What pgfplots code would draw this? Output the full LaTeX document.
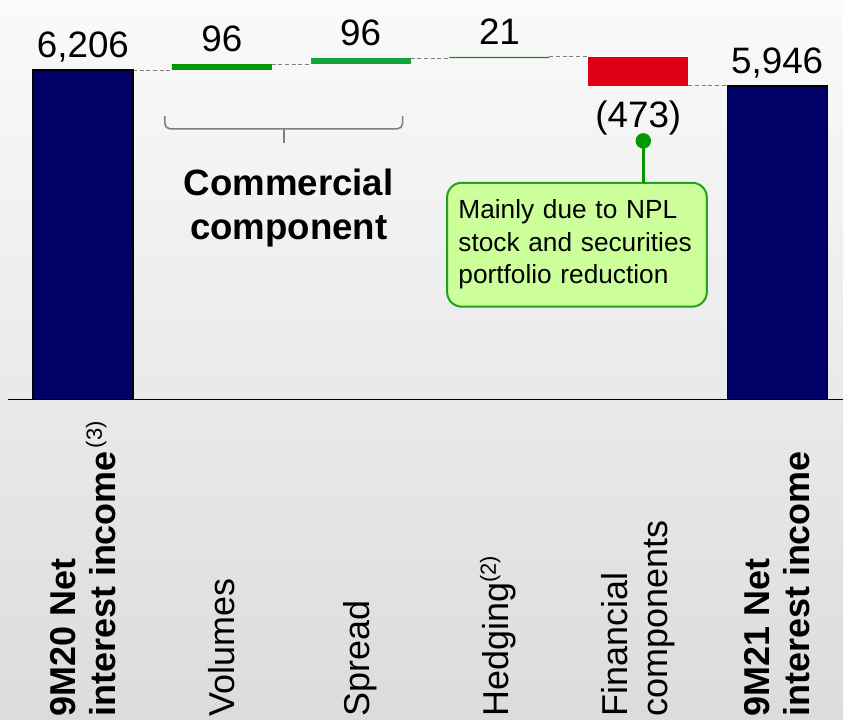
\documentclass[border=0pt]{standalone}
\usepackage{fontspec}
\setmainfont{Liberation Sans}
\usepackage{graphicx}
\usepackage{pgfplots}
\pgfplotsset{compat=1.18}
\usetikzlibrary{backgrounds}
\definecolor{navyblue}{HTML}{000066}
\definecolor{bargreen}{HTML}{009900}
\definecolor{spreadgreen}{HTML}{14A33C}
\definecolor{barred}{HTML}{DD0016}
\definecolor{boxfill}{HTML}{CCFF99}
\definecolor{boxline}{HTML}{22A022}
\definecolor{bgtop}{HTML}{FAFAFA}
\definecolor{bgbot}{HTML}{DCDCDC}
\newcommand{\supnote}[1]{\rlap{\smash{\raisebox{0.36em}{\scalebox{0.61}{#1}}}}}
\tikzset{
  conn/.style={gray, line width=0.6pt, dash pattern=on 3pt off 2pt},
  val/.style={font=\fontsize{27.6}{30}\selectfont, anchor=base, inner sep=0pt},
}
\begin{document}
\begin{tikzpicture}
\begin{axis}[
  name=ax,
  scale only axis,
  width=627pt, height=300pt,
  xmin=-0.5396, xmax=5.475,
  ymin=823, ymax=7348,
  clip mode=individual,
  axis x line=bottom, axis y line=none,
  x axis line style={-, line width=1.3pt, black},
  ybar stacked, bar width=0.72,
  xtick={0,1,2,3,4,5},
  xtick style={draw=none},
  xticklabels={{\vbox{\hbox{\textbf{9M20 Net}}\hbox{\textbf{interest income}}}},Volumes,Spread,Hedging\supnote{(2)},{Financial\\components},{\textbf{9M21 Net}\\\textbf{interest income}}},
  xticklabel style={font=\fontsize{27}{30}\selectfont, align=left, inner sep=0pt, yshift=-236.25pt, rotate=90, anchor=west},
]
\addplot[fill=navyblue, draw=black, line width=1pt] coordinates {(0,6206)(1,0)(2,0)(3,0)(4,0)(5,5946)};
\addplot[fill=none, draw=none] coordinates {(0,0)(1,6206)(2,6302)(3,6398)(4,5946)(5,0)};
\addplot[fill=bargreen, draw=none] coordinates {(0,0)(1,96)(2,0)(3,21)(4,0)(5,0)};
\addplot[fill=spreadgreen, draw=none] coordinates {(0,0)(1,0)(2,96)(3,0)(4,0)(5,0)};
\addplot[fill=barred, draw=none] coordinates {(0,0)(1,0)(2,0)(3,0)(4,473)(5,0)};

\draw[conn] (axis cs:0.36,6206) -- (axis cs:0.64,6206);
\draw[conn] (axis cs:1.36,6302) -- (axis cs:1.64,6302);
\draw[conn] (axis cs:2.36,6398) -- (axis cs:2.64,6398);
\draw[conn] (axis cs:3.36,6419) -- (axis cs:3.64,6419);
\draw[conn] (axis cs:4.36,5946) -- (axis cs:4.64,5946);

\node[val, yshift=9.5pt] at (axis cs:0,6206) {6,206};
\node[val, yshift=9.5pt] at (axis cs:1,6302) {96};
\node[val, yshift=9.5pt] at (axis cs:2,6398) {96};
\node[val, yshift=9.5pt] at (axis cs:3,6419) {21};
\node[val] at (axis cs:4,5260) {(473)};
\node[val, yshift=9.5pt] at (axis cs:5,5946) {5,946};

% footnote mark of the first category label
\node[rotate=90, anchor=base west, inner sep=0pt, font=\fontsize{16.5}{16.5}\selectfont] at (axis cs:0.137,25) {(3)};

\draw[gray, line width=1.2pt, rounded corners=4pt] (axis cs:0.59,5456) -- (axis cs:0.59,5244) -- (axis cs:2.302,5244) -- (axis cs:2.302,5456);
\draw[gray, line width=1.2pt] (axis cs:1.446,5244) -- (axis cs:1.446,5016);
\node[align=center, font=\bfseries\fontsize{27.5}{33}\selectfont] at (axis cs:1.482,3956) {Commercial\\component};

\draw[bargreen, line width=2.2pt] (axis cs:4.036,5048) -- (axis cs:4.036,4363);
\fill[bargreen] (axis cs:4.036,5048) circle (5.8pt);
\node[draw=boxline, fill=boxfill, rounded corners=11pt, line width=1.5pt, text width=178pt, align=left, minimum height=93pt, inner xsep=8.5pt, font=\fontsize{19.7}{24.4}\selectfont] at (axis cs:3.558,3352) {Mainly due to NPL\\stock and securities\\portfolio reduction};
\end{axis}
\begin{scope}[on background layer]
\shade[top color=bgtop, bottom color=bgbot] ([xshift=-6pt,yshift=-240pt]ax.south west) rectangle (ax.north east);
\end{scope}
\end{tikzpicture}
\end{document}
